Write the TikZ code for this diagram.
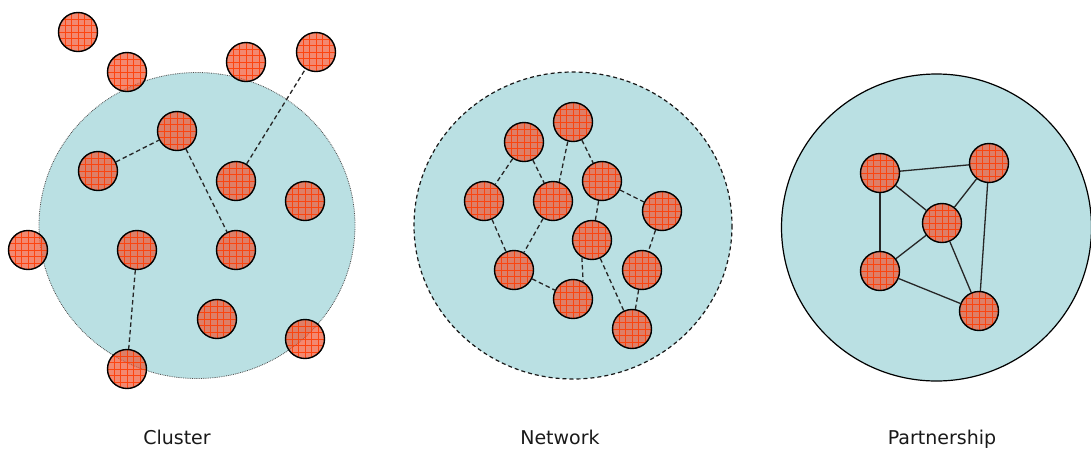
\documentclass[tikz,border=0pt]{standalone}
\usepackage{fontspec}
\setmainfont{DejaVu Sans}
\definecolor{bgc}{HTML}{BAE0E3}
\definecolor{ballc}{HTML}{EE5533}
\definecolor{gridc}{HTML}{FF3A00}
\tikzset{
  ball/.style={circle, minimum size=39pt, inner sep=0pt, draw=black, line width=1.4pt,
    fill=ballc, fill opacity=0.7, draw opacity=1,
    path picture={\draw[gridc, line width=0.7pt, draw opacity=0.85, step=6.5pt]
      (path picture bounding box.south west) grid (path picture bounding box.north east);}},
  dlink/.style={draw=black!85, line width=1.3pt, dash pattern=on 4.5pt off 3pt},
  slink/.style={draw=black!85, line width=1.3pt},
  lbl/.style={font=\fontsize{19}{21}\selectfont, text=black!90, anchor=base, inner sep=0pt}
}
\begin{document}
\begin{tikzpicture}[x=1pt,y=-1pt]
\useasboundingbox (0,0) rectangle (1091,448);
% big circles
\fill[bgc] (197,225.5) ellipse [x radius=158, y radius=153];
\draw[black!70, line width=0.8pt, densely dotted] (197,225.5) ellipse [x radius=158, y radius=153];
\fill[bgc] (573,225.5) ellipse [x radius=159, y radius=153.5];
\draw[black!90, line width=1.2pt, dash pattern=on 4pt off 3pt] (573,225.5) ellipse [x radius=159, y radius=153.5];
\fill[bgc] (936.5,227.5) ellipse [x radius=155, y radius=153.5];
\draw[black, line width=1.2pt] (936.5,227.5) ellipse [x radius=155, y radius=153.5];
% Cluster
\node[ball] (c1) at (78,32) {};
\node[ball] (c2) at (127,72) {};
\node[ball] (c3) at (246,62) {};
\node[ball] (c4) at (316,52) {};
\node[ball] (c5) at (177,131) {};
\node[ball] (c6) at (98,171) {};
\node[ball] (c7) at (236,181) {};
\node[ball] (c8) at (305,201) {};
\node[ball] (c9) at (28,250) {};
\node[ball] (c10) at (137,250) {};
\node[ball] (c11) at (236,250) {};
\node[ball] (c12) at (217,319) {};
\node[ball] (c13) at (305,339) {};
\node[ball] (c14) at (127,369) {};
\draw[dlink] (c6) -- (c5);
\draw[dlink] (c5) -- (c11);
\draw[dlink] (c7) -- (c4);
\draw[dlink] (c10) -- (c14);
% Network
\node[ball] (na) at (573,122) {};
\node[ball] (nb) at (524,142) {};
\node[ball] (nc) at (484,201) {};
\node[ball] (nd) at (553,201) {};
\node[ball] (ne) at (602,181) {};
\node[ball] (nf) at (662,211) {};
\node[ball] (ng) at (592,240) {};
\node[ball] (nh) at (514,270) {};
\node[ball] (ni) at (642,270) {};
\node[ball] (nj) at (573,299) {};
\node[ball] (nk) at (632,329) {};
\draw[dlink] (nb) -- (nc);
\draw[dlink] (nb) -- (nd);
\draw[dlink] (na.255) -- (nd.72);
\draw[dlink] (na) -- (ne);
\draw[dlink] (ne) -- (nf);
\draw[dlink] (ne) -- (ng);
\draw[dlink] (nf) -- (ni);
\draw[dlink] (nc) -- (nh);
\draw[dlink] (nd) -- (nh);
\draw[dlink] (nh) -- (nj);
\draw[dlink] (ng.240) -- (nj.60);
\draw[dlink] (ng) -- (nk);
\draw[dlink] (ni) -- (nk);
% Partnership
\node[ball] (pa) at (880,173) {};
\node[ball] (pb) at (989,163) {};
\node[ball] (pc) at (942,223) {};
\node[ball] (pd) at (880,271) {};
\node[ball] (pe) at (979,311) {};
\draw[slink] (pa) -- (pb);
\draw[slink] (pa) -- (pc);
\draw[slink] (pb) -- (pc);
\draw[slink] (pa) -- (pd);
\draw[slink] (pd) -- (pc);
\draw[slink] (pd) -- (pe);
\draw[slink] (pc) -- (pe);
\draw[slink] (pb) -- (pe);
% labels
\node[lbl] (l1) at (177,444) {Cluster};
\node[lbl] (l2) at (560,444) {Network};
\node[lbl] (l3) at (942,444) {Partnership};
\end{tikzpicture}
\end{document}
